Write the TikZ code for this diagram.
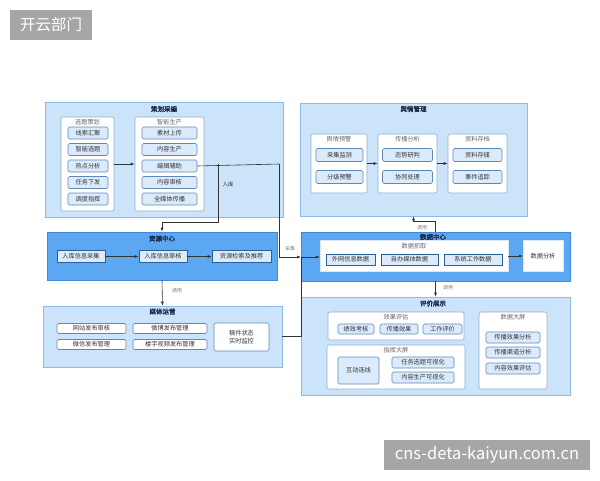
\documentclass[tikz,border=0pt]{standalone}
\usepackage{fontspec}
\setmainfont{Noto Sans CJK SC}[AutoFakeBold=2]
\usetikzlibrary{arrows.meta}
\definecolor{pale}{HTML}{CCE4FA}
\definecolor{paleline}{HTML}{8DBAE8}
\definecolor{midblue}{HTML}{5BA7F2}
\definecolor{midline}{HTML}{3F8AD8}
\definecolor{itemfill}{HTML}{DCEBFB}
\definecolor{itemline}{HTML}{5F88B8}
\definecolor{grpline}{HTML}{8FAED0}
\definecolor{ink}{HTML}{333333}
\definecolor{navy}{HTML}{1B2A47}
\definecolor{wmgray}{HTML}{A6A6A6}

\begin{document}
\begin{tikzpicture}[x=1pt,y=-1pt,>={Latex[length=4pt,width=3pt]},
  every node/.style={font=\fontsize{6.2}{7.5}\selectfont, text=ink, inner sep=0pt},
  sz/.style 2 args={minimum width=#1, minimum height=#2},
  block/.style={draw=paleline, fill=pale, line width=0.6pt},
  hub/.style={draw=midline, fill=midblue, line width=0.6pt},
  grp/.style={draw=grpline, fill=white, rounded corners=2pt, line width=0.6pt},
  item/.style={draw=itemline, fill=itemfill, rounded corners=1.5pt, line width=0.6pt},
  hubitem/.style={draw=midline!70!black, fill=itemfill, line width=0.6pt},
  title/.style={font=\fontsize{6.5}{7.5}\selectfont\bfseries, text=navy},
  grpcap/.style={text=ink!75},
  tag/.style={font=\fontsize{5}{6}\selectfont, text=gray},
  link/.style={draw=ink, line width=0.6pt},
  wm/.style={fill=wmgray, text=white}]
  \fill[white] (0,0) rectangle (600,480);
  \useasboundingbox (0,0) rectangle (600,480);

  \node[wm, sz={82}{30}, font=\fontsize{15.5}{15.5}\selectfont] (wmA) at (51,25) {开云部门};
  \node[wm, sz={206}{30}, font=\fontsize{16.5}{16.5}\selectfont] (wmB) at (487,455) {cns-deta-kaiyun.com.cn};

  % 策划采编
  \node[block, sz={238}{115}] (chcb) at (164,159.5) {};
  \node[title] (chcbT) at (164,109) {策划采编};
  \node[grp, sz={53}{94}] (xtch) at (87.5,164) {};
  \node[grpcap] (xtchT) at (87.5,122) {选题策划};
  \foreach \t [count=\i] in {线索汇聚,智能选题,热点分析,任务下发,调度指挥}
    \node[item, sz={40}{12}] (xt\i) at (88,{116.5+16.5*\i}) {\t};
  \node[grp, sz={69}{94}] (znsc) at (169.5,164) {};
  \node[grpcap] (znscT) at (169.5,122) {智能生产};
  \foreach \t [count=\i] in {素材上传,内容生产,编辑辅助,内容审核,全媒体传播}
    \node[item, sz={55}{12}] (zn\i) at (169.5,{116.5+16.5*\i}) {\t};
  \draw[link,->] (xtch) -- (znsc);

  % 舆情管理
  \node[block, sz={227}{113}] (yqgl) at (413.5,159.5) {};
  \node[title] (yqglT) at (413.5,109) {舆情管理};
  \node[grp, sz={56}{59}] (yqyj) at (339,163.5) {};
  \node[grpcap] (yqyjT) at (339,139.5) {舆情预警};
  \node[item, sz={47}{13}] (yq1) at (339.5,155) {采集监测};
  \node[item, sz={47}{13}] (yq2) at (339.5,177) {分级预警};
  \node[grp, sz={59}{59}] (cbfx) at (407.5,163.5) {};
  \node[grpcap] (cbfxT) at (407.5,139.5) {传播分析};
  \node[item, sz={50}{13}] (cb1) at (407.5,155) {态势研判};
  \node[item, sz={50}{13}] (cb2) at (407.5,177) {协同处理};
  \node[grp, sz={59}{59}] (zlcd) at (477.5,163.5) {};
  \node[grpcap] (zlcdT) at (477.5,139.5) {资料存档};
  \node[item, sz={49}{13}] (zl1) at (477.5,155) {资料存储};
  \node[item, sz={49}{13}] (zl2) at (477.5,177) {事件追踪};
  \draw[link,->] (yqyj) -- (cbfx);
  \draw[link,->] (cbfx) -- (zlcd);

  % 资源中心
  \node[hub, sz={230}{48}] (zyzx) at (162,256) {};
  \node[title] (zyzxT) at (162,238.5) {资源中心};
  \node[hubitem, sz={48}{12}] (rk1) at (81,256.5) {入库信息采集};
  \node[hubitem, sz={48}{12}] (rk2) at (163,256.5) {入库信息审核};
  \node[hubitem, sz={59}{12}] (rk3) at (241.5,256.5) {资源检索及推荐};
  \draw[link,->] (rk1) -- (rk2);
  \draw[link,->] (rk2) -- (rk3);

  % 媒体运营
  \node[block, sz={239}{61}] (mtyy) at (162.5,336.5) {};
  \node[title] (mtyyT) at (162.5,311.5) {媒体运营};
  \node[item, fill=white, sz={69}{10}] (mt1) at (91.5,328.5) {网站发布审核};
  \node[item, fill=white, sz={74}{10}] (mt2) at (170,328.5) {微博发布管理};
  \node[item, fill=white, sz={69}{10}] (mt3) at (91.5,344.5) {微信发布管理};
  \node[item, fill=white, sz={74}{10}] (mt4) at (170,344.5) {楼宇视频发布管理};
  \node[item, fill=white, sz={55}{28}, align=center] (mt5) at (241.5,337) {稿件状态\\实时监控};

  % 数据中心
  \node[hub, sz={269}{49}] (sjzx) at (435.5,256.5) {};
  \node[title] (sjzxT) at (433,237) {数据中心};
  \node[draw=white!80!midline, fill=white, sz={188}{31}] (sjzq) at (414,256) {};
  \node[grpcap] (sjzqT) at (414,246) {数据抓取};
  \node[hubitem, sz={49}{11}] (sj1) at (350.5,259.5) {外网信息数据};
  \node[hubitem, sz={57}{11}] (sj2) at (409.5,259.5) {自办媒体数据};
  \node[hubitem, sz={58}{11}] (sj3) at (473,259.5) {系统工作数据};
  \node[draw=white!80!midline, fill=white, sz={40}{31}] (sjfx) at (543,256) {数据分析};
  \draw[link,->] (sjzq) -- (sjfx);

  % 评价展示
  \node[block, sz={269}{98}] (pjzs) at (435.5,346) {};
  \node[title] (pjzsT) at (433,303.5) {评价展示};
  \node[grp, sz={136}{28}] (xgpg) at (396,326) {};
  \node[grpcap] (xgpgT) at (396,317) {效果评估};
  \node[item, sz={36}{10}] (xg1) at (356,329) {绩效考核};
  \node[item, sz={38}{10}] (xg2) at (399,329) {传播效果};
  \node[item, sz={39}{10}] (xg3) at (442.5,329) {工作评价};
  \node[grp, sz={138}{44}] (zhdp) at (396,367) {};
  \node[grpcap] (zhdpT) at (396,350.5) {指挥大屏};
  \node[item, sz={41}{27}] (zh1) at (358.5,370.5) {互动连线};
  \node[item, sz={62}{11}] (zh2) at (423,362.5) {任务选题可视化};
  \node[item, sz={62}{11}] (zh3) at (423,377.5) {内容生产可视化};
  \node[grp, sz={68}{77}] (sjdp) at (513,350.5) {};
  \node[grpcap] (sjdpT) at (513,317.5) {数据大屏};
  \node[item, sz={54}{11}] (dp1) at (513,337.5) {传播效果分析};
  \node[item, sz={54}{11}] (dp2) at (513,352.5) {传播渠道分析};
  \node[item, sz={54}{11}] (dp3) at (513,368.5) {内容效果评估};

  % connectors between blocks
  \coordinate (cjA) at (279,164);
  \coordinate (cjB) at (301,257);
  \coordinate (rkA) at (218,164);
  \coordinate (rkB) at (218,222);
  \draw[link] (zn3.east) -- (cjA);
  \draw[link,->] (rkA) -- (rkB) -- (rkB -| zyzx.north) -- (zyzx.north);
  \node[font=\fontsize{5.5}{6}\selectfont] (rkT) at (228,184) {入库};
  \draw[link,->] (cjA) -- (cjA |- cjB) -- (cjB);
  \draw[link,->] (cjB) -- (cjB -| sjzq.west);
  \node[tag] (cjT) at (290,249) {采集};
  \draw[link] (mtyy.east) -- (mtyy.east -| cjB) -- (cjB);
  \draw[link,->] (zyzx.south) -- (mtyy.north);
  \node[tag] (dyA) at (177,291) {调用};
  \draw[link,->] (sjzx.north) -- ++(0,-10) -| (yqgl.south);
  \node[tag] (dyB) at (422,228) {调用};
  \draw[link,->] (sjzx.south) -- (pjzs.north);
  \node[tag] (dyC) at (448,288) {调用};
\end{tikzpicture}
\end{document}
